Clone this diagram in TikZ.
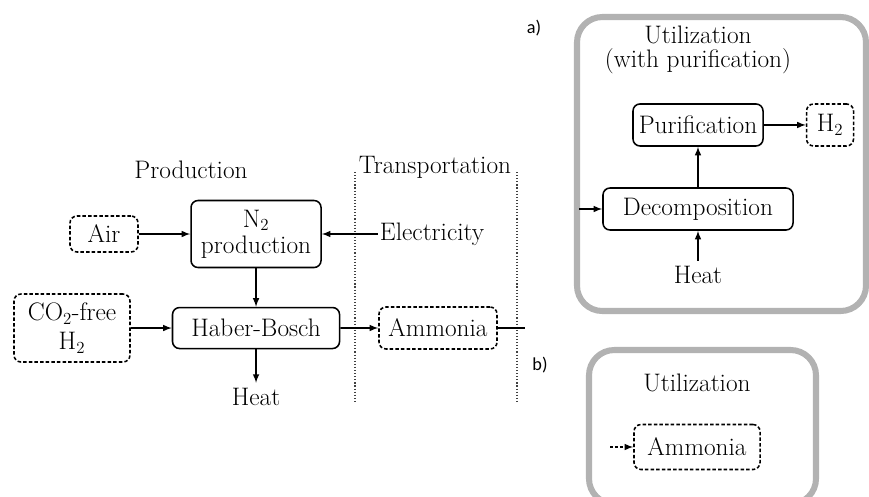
\documentclass[tikz,border=0pt]{standalone}
\usepackage{fontspec}
\newfontfamily\labelfont{Carlito}
\usetikzlibrary{positioning}

\begin{document}
\begin{tikzpicture}[x=0.025cm, y=-0.025cm, line width=1.1pt, >=latex,
  every node/.style={font=\fontsize{18}{18.5}\selectfont},
  proc/.style={draw, rounded corners=5pt, align=center, inner sep=2pt},
  ext/.style={proc, dash pattern=on 2.5pt off 1.5pt},
  panel/.style={draw=black!30, line width=4.3pt, rounded corners=18pt},
  sect/.style={black!75, line width=0.8pt, dash pattern=on 0.8pt off 1.4pt},
  tag/.style={font=\labelfont\fontsize{13}{15}\selectfont}]
\useasboundingbox (0,0) rectangle (869,496);

% production and transportation
\node (prod) at (191,170) {Production};
\node (trans) at (435,167) {Transportation};
\draw[sect] (355,172) -- (355,404);
\draw[sect] (517,172) -- (517,404);

\node[ext, minimum width=1.7cm, minimum height=0.9cm] (air) at (104,234) {Air};
\node[proc, minimum width=3.25cm, minimum height=1.675cm] (n2) [right of=air, node distance=3.8cm] {N$_2$\\production};
\node (elec) [right of=n2, node distance=4.4cm, inner sep=1pt] {Electricity};
\node[proc, minimum width=4.175cm, minimum height=1.025cm] (hb) [below of=n2, node distance=2.35cm] {Haber-Bosch};
\node[ext, minimum width=2.9cm, minimum height=1.7cm] (co2) at (72,328) {CO$_2$-free\\[2pt]H$_2$};
\node[ext, minimum width=2.95cm, minimum height=1.05cm] (amm) at (438,328) {Ammonia};
\node (heat) [below of=hb, node distance=1.725cm] {Heat};
\coordinate (out) at (525,328);

\draw[->] (air) -- (n2);
\draw[->] (elec) -- (n2);
\draw[->] (n2) -- (hb);
\draw[->] (co2) -- (hb);
\draw[->] (hb) -- (amm);
\draw[->] (hb) -- (heat);
\draw (amm) -- (out);

% a) utilization with purification
\draw[panel] (577,17) rectangle (866,311);
\node[tag] (la) at (534,28) {a)};
\node[align=center, font=\fontsize{18}{17}\selectfont] (ua) at (698,50) {Utilization\\(with purification)};
\node[proc, minimum width=4.75cm, minimum height=1.05cm] (dec) at (698,209) {Decomposition};
\node[proc, minimum width=3.25cm, minimum height=1.05cm] (pur) [above of=dec, node distance=2.1cm] {Purification};
\node[ext, minimum width=1.175cm, minimum height=1.05cm] (h2) [right of=pur, node distance=3.3cm] {H$_2$};
\node (heata) [below of=dec, node distance=1.65cm] {Heat};
\coordinate (ina) at (579,209);

\draw[->] (ina) -- (dec);
\draw[->] (dec) -- (pur);
\draw[->] (pur) -- (h2);
\draw[->] (heata) -- (dec);

% b) utilization
\draw[panel] (589,350) rectangle (816,504);
\node[tag] (lb) at (540,365) {b)};
\node (ub) at (697,383) {Utilization};
\node[ext, minimum width=3.15cm, minimum height=1.125cm] (ammb) at (697,447) {Ammonia};
\coordinate (inb) at (610,447);
\draw[->, dash pattern=on 2pt off 1.5pt] (inb) -- (ammb);
\end{tikzpicture}
\end{document}
